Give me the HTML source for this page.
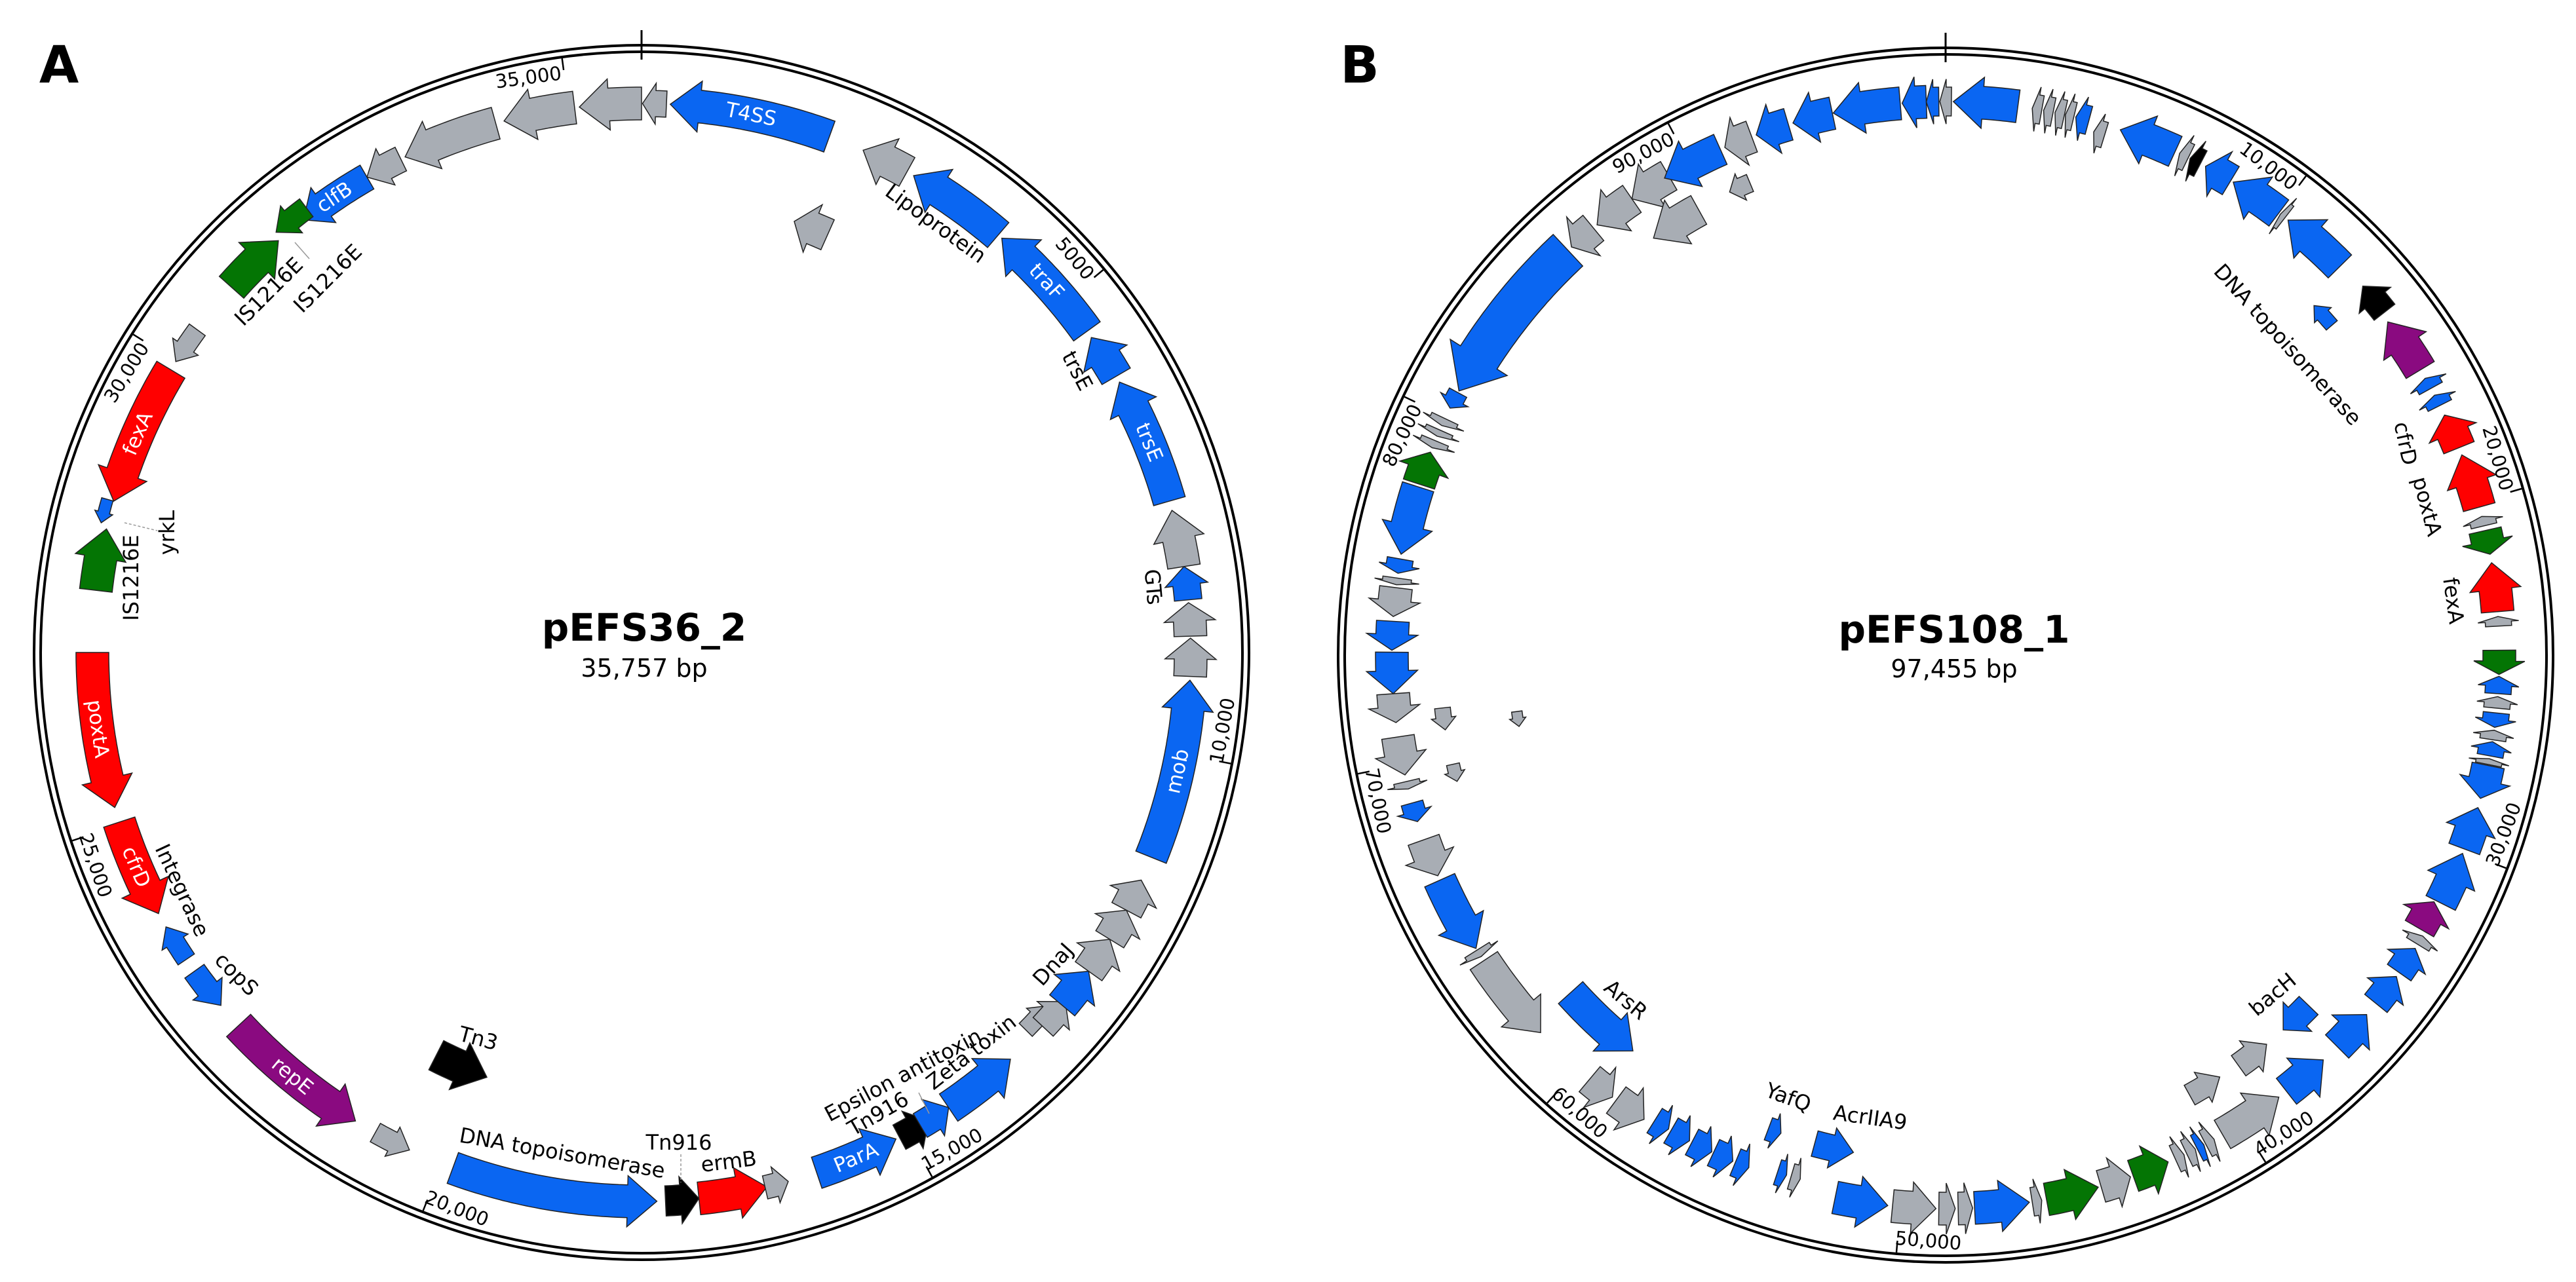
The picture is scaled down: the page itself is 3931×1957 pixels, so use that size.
<!DOCTYPE html>
<html><head><meta charset="utf-8"><style>
html,body{margin:0;padding:0;background:#fff;width:3931px;height:1957px;overflow:hidden}
svg{display:block}
text{font-family:"DejaVu Sans","Liberation Sans",sans-serif}
</style></head><body>
<svg id="s" xmlns="http://www.w3.org/2000/svg" width="3931" height="1957" viewBox="0 0 3931 1957">
<text x="90" y="100" font-size="78" font-weight="bold" font-family="Liberation Sans,sans-serif" text-anchor="middle" dominant-baseline="central">A</text>
<text x="2075" y="100" font-size="78" font-weight="bold" font-family="Liberation Sans,sans-serif" text-anchor="middle" dominant-baseline="central">B</text>
<text x="983" y="958" font-size="58" font-weight="bold" text-anchor="middle" dominant-baseline="central">pEFS36_2</text>
<text x="983" y="1020" font-size="38" text-anchor="middle" dominant-baseline="central">35,757 bp</text>
<text x="2982" y="961" font-size="58" font-weight="bold" text-anchor="middle" dominant-baseline="central">pEFS108_1</text>
<text x="2982" y="1021" font-size="38" text-anchor="middle" dominant-baseline="central">97,455 bp</text>
<g id="g"></g>
</svg>
<script>
(function(){
var C={b:"#0a66f2",g:"#a8adb4",r:"#ff0000",G:"#047504",p:"#8a0a80",k:"#000000"};
var out=[];
function P(cx,cy,a,r){var t=a*Math.PI/180;return [cx+r*Math.sin(t),cy-r*Math.cos(t)];}
function f(p){return p[0].toFixed(1)+","+p[1].toFixed(1);}
function arrow(cx,cy,R,a1,a2,dir,col,w){
  w=w||50;var hw=w/2,hh=w*0.78;
  var lenPx=(a2-a1)*Math.PI/180*R;
  var hp=Math.min(w*0.9,lenPx*0.55);
  var hd=hp/R*180/Math.PI;
  var tail,neck,tip;
  if(dir=='c'){tail=a1;neck=a2-hd;tip=a2;}else{tail=a2;neck=a1+hd;tip=a1;}
  var pts=[],n=Math.max(2,Math.ceil(Math.abs(neck-tail)*2));
  for(var i=0;i<=n;i++){pts.push(P(cx,cy,tail+(neck-tail)*i/n,R+hw));}
  pts.push(P(cx,cy,neck,R+hh));pts.push(P(cx,cy,tip,R));pts.push(P(cx,cy,neck,R-hh));
  for(var i=n;i>=0;i--){pts.push(P(cx,cy,tail+(neck-tail)*i/n,R-hw));}
  out.push('<path d="M'+pts.map(f).join(" L")+' Z" fill="'+C[col]+'" stroke="#222" stroke-width="1.5" stroke-linejoin="miter"/>');
}
function ring(cx,cy){
  out.push('<circle cx="'+cx+'" cy="'+cy+'" r="927" fill="none" stroke="#000" stroke-width="4"/>');
  out.push('<circle cx="'+cx+'" cy="'+cy+'" r="917" fill="none" stroke="#000" stroke-width="4"/>');
  var a=P(cx,cy,0,950),b=P(cx,cy,0,905);
  out.push('<line x1="'+a[0]+'" y1="'+a[1]+'" x2="'+b[0]+'" y2="'+b[1]+'" stroke="#000" stroke-width="3"/>');
}
function tick(cx,cy,th,txt){
  var a=P(cx,cy,th,915),b=P(cx,cy,th,897);
  out.push('<line x1="'+a[0].toFixed(1)+'" y1="'+a[1].toFixed(1)+'" x2="'+b[0].toFixed(1)+'" y2="'+b[1].toFixed(1)+'" stroke="#000" stroke-width="2.5"/>');
  var bottom=(th>90&&th<270);
  var off=4/897*180/Math.PI;
  var p=P(cx,cy,bottom?th+off:th-off,893);
  var rot=bottom?th-180:(th>180?th-360:th);
  out.push('<text x="'+p[0].toFixed(1)+'" y="'+p[1].toFixed(1)+'" font-size="29" text-anchor="'+(bottom?'start':'end')+'" dominant-baseline="central" transform="rotate('+rot.toFixed(1)+' '+p[0].toFixed(1)+' '+p[1].toFixed(1)+')">'+txt+'</text>');
}
function glabel(cx,cy,R,th,txt){
  var p=P(cx,cy,th,R);
  var rot=(th>90&&th<270)?th-180:(th>180?th-360:th);
  out.push('<text x="'+p[0].toFixed(1)+'" y="'+p[1].toFixed(1)+'" font-size="31" fill="#fff" text-anchor="middle" dominant-baseline="central" transform="rotate('+rot.toFixed(1)+' '+p[0].toFixed(1)+' '+p[1].toFixed(1)+')">'+txt+'</text>');
}
function lab(x,y,rot,txt,fs){
  out.push('<text x="'+x+'" y="'+y+'" font-size="'+(fs||32)+'" text-anchor="middle" dominant-baseline="central" transform="rotate('+rot+' '+x+' '+y+')">'+txt+'</text>');
}
// ---------- A ----------
var AX=979,AY=996,AR=838;
ring(AX,AY);
var A=[
[3,20,'a','b'],[0.1,2.6,'a','g',40],[353.5,360,'a','g'],[345.5,353,'a','g'],[334.5,344.6,'a','g'],[330,334,'a','g',40],
[322,330,'a','b',42],[319,323,'a','G',34,850],[311.7,318.6,'c','G'],[302,306,'a','g',30],[286,301,'a','r'],
[283.5,286,'a','b',18,848],[276.5,283,'c','G'],[253.6,270,'a','r'],[241.6,252,'a','r'],[236,240,'c','b',30],
[230,234.5,'a','b',36],[211.4,227.2,'a','p'],[205,209,'a','g',32],[178.4,200.1,'a','b'],[174,177.5,'a','k',46],
[166.8,174,'a','r'],[164.5,167,'a','g',36],[152.4,161.4,'a','b'],[148.5,152,'a','k',42],[146,149.5,'a','b',42],
[137.8,146,'a','b'],[131,134.5,'a','g',28,822],[129.5,133,'a','g',42],[125.5,130,'a','b'],[121.5,125.5,'a','g'],
[118,121.5,'a','g'],[114.5,118,'a','g'],[92.9,111.9,'a','b'],[88.5,92.5,'a','g'],[84.8,88.3,'a','g'],
[81,84.5,'a','b',42],[75,81,'a','g'],[60.5,74,'a','b'],[55,59.8,'a','b'],[41,54.2,'a','b'],[29.7,40.5,'a','b'],
[23.8,28.9,'a','g'],[19.5,24,'a','g',50,698],[200,207,'a','k',50,690]
];
A.forEach(function(g){arrow(AX,AY,g[5]||AR,g[0],g[1],g[2],g[3],g[4]);});
[[11.5,'T4SS'],[326,'clfB'],[293.5,'fexA'],[262,'poxtA'],[247,'cfrD'],[219.5,'repE'],[157,'ParA'],[102.5,'mob'],[67.5,'trsE'],[47.5,'traF']].forEach(function(l){glabel(AX,AY,AR,l[0],l[1]);});
[[50.34,'5000'],[100.68,'10,000'],[151.02,'15,000'],[201.36,'20,000'],[251.7,'25,000'],[302.04,'30,000'],[352.38,'35,000']].forEach(function(t){tick(AX,AY,t[0],t[1]);});
lab(410,445,-45,'IS1216E');lab(500,425,-45,'IS1216E');
out.push('<line x1="450" y1="370" x2="472" y2="395" stroke="#999" stroke-width="1.5"/>');
out.push('<line x1="190" y1="798" x2="240" y2="810" stroke="#999" stroke-width="1.5" stroke-dasharray="4,3"/>');
lab(1428,341,36,'Lipoprotein');lab(1644,566,62,'trsE');lab(1760,896,85,'GTs');
lab(255,813,-90,'yrkL');lab(200,882,-90,'IS1216E');
lab(278,1359,65,'Integrase');lab(361,1487,45,'copS');lab(730,1585,15,'Tn3');
lab(858,1760,10,'DNA topoisomerase');lab(1036,1744,0,'Tn916');lab(1112,1773,-7,'ermB');
out.push('<line x1="1039" y1="1762" x2="1039" y2="1805" stroke="#999" stroke-width="1.5" stroke-dasharray="4,3"/>');
lab(1378,1641,-28,'Epsilon antitoxin');lab(1340,1700,-30,'Tn916');lab(1482,1606,-38,'Zeta toxin');lab(1607,1472,-48,'DnaJ');
out.push('<line x1="1402" y1="1668" x2="1418" y2="1700" stroke="#999" stroke-width="1.5"/>');
// ---------- B ----------
var BX=2969,BY=1000,BR=845;
ring(BX,BY);
var B=[
[359.4,360.6,'a','g',44],[0.8,7.5,'a','b'],[9,10,'a','g',44],[10.2,11.2,'a','g',44],[11.4,12.4,'a','g',44],[12.5,13.4,'a','g',44],
[13.6,15,'a','b',44],[15.8,17,'a','g',40,830],[18.4,24.5,'a','b'],[25,26,'a','g',44],[26.2,27.4,'a','k',44],
[28,31,'a','b'],[31.3,37,'a','b'],[37.2,37.8,'a','g',44],[38.2,45.4,'a','b'],[48.5,52,'a','k',40,850],
[46.5,49.5,'a','b',22,775],[53,59,'a','p'],[60,61.2,'a','b',40],[62,63.2,'a','b',40],[64.3,68,'a','r'],
[68.8,74.5,'a','r'],[75.5,76.5,'a','g',40],[77,79.5,'c','G'],[80.4,85.5,'a','r'],[86,87,'a','g',40],
[89.5,92,'c','G'],[92.2,94,'a','b',40],[94.3,95.5,'a','g',40],[96,97.5,'c','b',40],[97.8,98.8,'a','g',40],
[99,100.5,'a','b',40],[100.8,101.4,'a','g',40],[101.5,105,'c','b'],[106,110.5,'a','b'],[111,116.6,'a','b'],
[116.8,120,'a','p',50,835],[120.5,121.5,'a','g',40],[122,125,'a','b',44],[125.5,129,'a','b',44],
[130.5,135,'a','b'],[137,142,'a','b'],[134,138,'c','b',40,770],[140.5,144.5,'a','g',38,770],[143,150,'a','g'],
[147,151,'a','g',34,768],[151,152,'a','g',44],[152.2,153,'a','b',44],[153.2,154.2,'a','g',44],[154.5,155.5,'a','g',44],
[156.3,160.2,'a','G'],[160.5,163.7,'a','g'],[164,169.5,'a','G'],[170,171,'a','g',44],[171.3,177,'a','b'],
[177.2,178.7,'a','g'],[179,180.7,'a','g'],[181,185.5,'a','g'],[186,191.5,'a','b'],[190.5,195,'a','b',40,772],
[195.5,196.5,'a','g',40,830],[197,198,'a','b',40,830],[199,200.5,'a','b',36,772],
[201,202.5,'a','b',44,838],[202.8,205,'a','b',44,838],[205.2,207.5,'a','b',44,838],[207.8,210,'a','b',44,838],[210.3,212,'a','b',44,838],
[213,216.5,'a','g'],[217,220,'a','g'],[218.3,228,'a','b',50,770],[227,236.5,'a','g'],[237,237.8,'a','g',44],
[238,246,'a','b'],[246.5,250.5,'a','g'],[252.5,254.5,'a','b',34],[256,256.8,'a','g',40],[255.5,257.5,'a','g',20,770],
[257.5,261.5,'a','g'],[260.5,262.5,'a','g',16,660],[261.5,264,'a','g',24,772],[263,266,'a','g'],
[266,270.3,'a','b'],[270.5,273.5,'a','b'],[274,277,'a','g'],[277.3,278,'a','g',44],[278.5,280,'a','b',40],
[280.5,287.7,'a','b'],[288,291.5,'c','G'],[292,292.8,'a','g',44],[293.3,294,'a','g',44],[294.5,295.3,'a','g',44],
[296.5,298.3,'a','b',30],[298.5,317,'a','b',66],[317.5,320.5,'a','g'],[321,325.5,'a','g'],[325.5,330,'a','g'],
[325,331,'a','g',50,777],[329.5,336,'a','b'],[335,337.5,'a','g',28,780],[336.5,339.5,'a','g'],[340,343.5,'a','b'],
[344,348.2,'a','b'],[348.3,355.3,'a','b'],[355.5,358,'a','b'],[358,359.3,'a','b',44]
];
B.forEach(function(g){arrow(BX,BY,g[5]||BR,g[0],g[1],g[2],g[3],g[4]);});
[[10000,'10,000'],[20000,'20,000'],[30000,'30,000'],[40000,'40,000'],[50000,'50,000'],[60000,'60,000'],[70000,'70,000'],[80000,'80,000'],[90000,'90,000']].forEach(function(t){tick(BX,BY,t[0]/97455*360,t[1]);});
lab(3491,526,48,'DNA topoisomerase');lab(3671,677,78,'cfrD');lab(3704,773,75,'poxtA');lab(3744,917,82,'fexA');
lab(3468,1518,-40,'bacH');lab(2481,1526,40,'ArsR');lab(2729,1675,20,'YafQ');lab(2854,1706,8,'AcrIIA9');
document.getElementById('g').innerHTML=out.join('');
})();
</script>
</body></html>
